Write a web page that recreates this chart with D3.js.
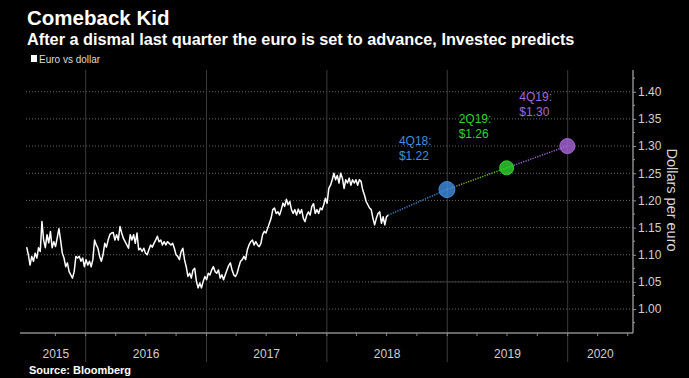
<!DOCTYPE html>
<html><head><meta charset="utf-8">
<script src="https://cdn.jsdelivr.net/npm/d3@7"></script>
<style>
body{margin:0;background:#000;}
svg{display:block;font-family:"Liberation Sans",Arial,sans-serif;}
</style>
</head><body><svg id="c" width="689" height="378"></svg>
<script>
// ---- data ----
const seriesStart = "2015-07-06";
const seriesEnd = "2018-07-06";
const euroUsd = [
1.114,1.100,1.081,1.097,1.088,1.103,1.094,1.113,1.106,1.161,
1.127,1.113,1.137,1.122,1.143,1.113,1.124,1.115,1.131,1.148,
1.127,1.103,1.094,1.078,1.085,1.069,1.063,1.057,1.069,1.097,
1.094,1.097,1.088,1.094,1.078,1.091,1.081,1.088,1.078,1.091,
1.127,1.118,1.112,1.097,1.088,1.100,1.121,1.114,1.127,1.137,
1.140,1.141,1.127,1.137,1.127,1.152,1.140,1.130,1.124,1.118,
1.112,1.137,1.127,1.137,1.121,1.140,1.109,1.112,1.106,1.112,
1.103,1.100,1.109,1.118,1.114,1.121,1.127,1.134,1.124,1.127,
1.118,1.124,1.118,1.124,1.121,1.118,1.121,1.112,1.100,1.097,
1.091,1.106,1.112,1.091,1.078,1.060,1.066,1.057,1.072,1.075,
1.051,1.039,1.048,1.039,1.051,1.060,1.054,1.066,1.063,1.072,
1.078,1.069,1.066,1.072,1.057,1.063,1.054,1.063,1.072,1.080,
1.085,1.072,1.063,1.060,1.066,1.078,1.088,1.091,1.097,1.091,
1.109,1.118,1.124,1.127,1.118,1.124,1.118,1.115,1.121,1.137,
1.143,1.140,1.149,1.158,1.167,1.183,1.186,1.176,1.179,1.173,
1.183,1.195,1.189,1.202,1.192,1.198,1.183,1.176,1.183,1.173,
1.184,1.176,1.183,1.167,1.161,1.173,1.179,1.173,1.189,1.194,
1.176,1.183,1.176,1.186,1.183,1.192,1.204,1.195,1.222,1.228,
1.238,1.250,1.238,1.246,1.232,1.250,1.241,1.222,1.238,1.232,
1.241,1.228,1.238,1.232,1.238,1.228,1.238,1.235,1.219,1.210,
1.198,1.192,1.186,1.183,1.167,1.155,1.167,1.176,1.179,1.158,
1.170,1.155,1.170,1.173
];
const forecastQuarters = ["4Q18","2Q19","4Q19"];
const forecastDates = ["2018-12-31","2019-06-30","2019-12-31"];
const forecastValues = [1.22,1.26,1.30];
const forecastColors = ["#3f8fe2","#2ed62e","#a866d8"];
const yTicks = [1.00,1.05,1.10,1.15,1.20,1.25,1.30,1.35,1.40];
const yearLabels = ["2015","2016","2017","2018","2019","2020"];
const highlightStart = "2018-05-15", highlightEnd = "2019-12-20", highlightValue = 1.05;

// ---- layout ----
const W = 689, H = 378;
const plotL = 26, plotR = 633, plotT = 70, plotB = 333;
const parse = d3.utcParse("%Y-%m-%d");

const x = d3.scaleUtc()
  .domain([parse("2015-07-04"), parse("2020-07-17")])
  .range([plotL, plotR]);
const y = d3.scaleLinear().domain([0.956, 1.44]).range([plotB, plotT]);

const svg = d3.select("#c");
svg.append("rect").attr("width", W).attr("height", H).attr("fill", "#000");

// titles
svg.append("text").attr("x", 27).attr("y", 25).attr("fill", "#fff")
  .attr("font-size", 20.5).attr("font-weight", "bold").text("Comeback Kid");
svg.append("text").attr("x", 27).attr("y", 45).attr("fill", "#fff")
  .attr("font-size", 16.3).attr("font-weight", "bold")
  .text("After a dismal last quarter the euro is set to advance, Investec predicts");

// legend
svg.append("rect").attr("x", 31).attr("y", 55).attr("width", 6).attr("height", 7).attr("fill", "#fff");
svg.append("text").attr("x", 39).attr("y", 63).attr("fill", "#ddd")
  .attr("font-size", 10).text("Euro vs dollar");

// gridlines
const g = svg.append("g");
g.selectAll("line.h").data(yTicks).join("line")
  .attr("x1", plotL).attr("x2", plotR)
  .attr("y1", d => y(d)).attr("y2", d => y(d))
  .attr("stroke", "#6a6a6a").attr("stroke-width", 1)
  .attr("stroke-dasharray", "1,2");
g.append("line")
  .attr("x1", x(parse(highlightStart))).attr("x2", x(parse(highlightEnd)))
  .attr("y1", y(highlightValue)).attr("y2", y(highlightValue))
  .attr("stroke", "#3a3a3a").attr("stroke-width", 1);

// year lines
const years = yearLabels.slice(1).map(s => parse(s + "-01-01"));
g.selectAll("line.v").data(years).join("line")
  .attr("x1", d => x(d)).attr("x2", d => x(d))
  .attr("y1", plotT).attr("y2", plotB + 29)
  .attr("stroke", "#3c3c3c").attr("stroke-width", 1);

// x axis
const xa = svg.append("g");
xa.append("line").attr("x1", plotL - 6).attr("x2", plotR).attr("y1", plotB).attr("y2", plotB)
  .attr("stroke", "#8a8a8a").attr("stroke-width", 1.5);
const quarters = d3.utcMonth.every(3).range(x.domain()[0], x.domain()[1]);
xa.selectAll("line.q").data(quarters).join("line")
  .attr("x1", d => x(d)).attr("x2", d => x(d))
  .attr("y1", plotB).attr("y2", plotB + 3)
  .attr("stroke", "#8a8a8a");
xa.selectAll("text").data(yearLabels).join("text")
  .attr("x", s => {
    const a = d3.max([x.domain()[0], parse(s + "-01-01")]);
    const b = d3.min([x.domain()[1], parse((+s + 1) + "-01-01")]);
    return (x(a) + x(b)) / 2;
  })
  .attr("y", 358).attr("text-anchor", "middle")
  .attr("fill", "#cfcfcf").attr("font-size", 12).text(s => s);

// y axis (right)
const ya = svg.append("g").attr("transform", `translate(${plotR},0)`);
ya.call(d3.axisRight(y).tickValues(yTicks).tickFormat(d3.format(".2f")).tickSize(3).tickPadding(2));
ya.select(".domain").remove();
ya.selectAll(".tick line").attr("stroke", "#9a9a9a");
ya.selectAll(".tick text").attr("fill", "#d0d0d0").attr("font-size", 12)
  .attr("font-family", "Liberation Sans, Arial, sans-serif");
ya.append("line").attr("x1", 0).attr("x2", 0).attr("y1", plotT).attr("y2", plotB)
  .attr("stroke", "#8a8a8a").attr("stroke-width", 1.5);
const minor = d3.range(0.975, 1.44, 0.05);
ya.selectAll("line.mn").data(minor).join("line")
  .attr("x1", 0).attr("x2", 2).attr("y1", d => y(d)).attr("y2", d => y(d))
  .attr("stroke", "#9a9a9a");
svg.append("text")
  .attr("transform", `translate(667,200) rotate(90)`)
  .attr("text-anchor", "middle").attr("fill", "#d8d8d8").attr("font-size", 14.5)
  .text("Dollars per euro");

// series
const t0 = parse(seriesStart).getTime(), t1 = parse(seriesEnd).getTime();
const n = euroUsd.length;
const series = euroUsd.map((v, i) => ({ d: new Date(t0 + (t1 - t0) * i / (n - 1)), v }));
svg.append("path").datum(series)
  .attr("d", d3.line().x(p => x(p.d)).y(p => y(p.v)))
  .attr("fill", "none").attr("stroke", "#fff").attr("stroke-width", 1.5)
  .attr("stroke-linejoin", "round");

// forecast
const last = series[n - 1];
const fpts = forecastDates.map((s, i) => ({ d: parse(s), v: forecastValues[i], q: forecastQuarters[i], c: forecastColors[i] }));
const chain = [{ d: last.d, v: last.v, c: forecastColors[0] }].concat(fpts);
const defs = svg.append("defs");
const segColors = [["#3f8fe2", "#3f8fe2"], ["#b8b02a", "#2ed62e"], ["#a866d8", "#a866d8"]];
for (let i = 0; i < chain.length - 1; i++) {
  const a = chain[i], b = chain[i + 1];
  const gid = "seg" + i;
  const lg = defs.append("linearGradient").attr("id", gid).attr("gradientUnits", "userSpaceOnUse")
    .attr("x1", x(a.d)).attr("y1", y(a.v)).attr("x2", x(b.d)).attr("y2", y(b.v));
  lg.append("stop").attr("offset", 0).attr("stop-color", segColors[i][0]);
  lg.append("stop").attr("offset", 1).attr("stop-color", segColors[i][1]);
  svg.append("line")
    .attr("x1", x(a.d)).attr("y1", y(a.v)).attr("x2", x(b.d)).attr("y2", y(b.v))
    .attr("stroke", `url(#${gid})`).attr("stroke-width", 1.4).attr("stroke-dasharray", "1.2,1.3");
}
const radii = [8, 7, 7.5];
svg.selectAll("circle.f").data(fpts).join("circle")
  .attr("cx", p => x(p.d)).attr("cy", p => y(p.v)).attr("r", (p, i) => radii[i])
  .attr("fill", p => p.c).attr("fill-opacity", 0.8)
  .attr("stroke", p => p.c).attr("stroke-width", 1);
const lab = svg.selectAll("g.lab").data(fpts).join("g");
lab.append("text").attr("x", p => x(p.d) - 48).attr("y", p => y(p.v) - 45)
  .attr("fill", p => p.c).attr("font-size", 12).text(p => p.q + ":");
lab.append("text").attr("x", p => x(p.d) - 48).attr("y", p => y(p.v) - 30)
  .attr("fill", p => p.c).attr("font-size", 12).text(p => "$" + d3.format(".2f")(p.v));

// source
svg.append("text").attr("x", 29).attr("y", 374).attr("fill", "#fff")
  .attr("font-size", 11).attr("font-weight", "bold").text("Source:  Bloomberg");
</script>
</body></html>
